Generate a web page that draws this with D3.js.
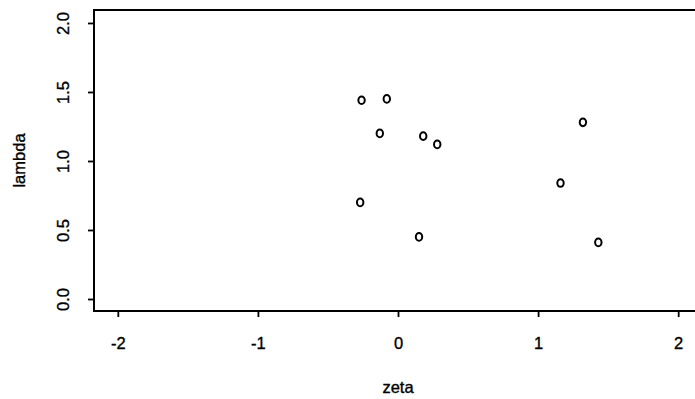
<!DOCTYPE html>
<html>
<head>
<meta charset="utf-8">
<script src="https://cdn.jsdelivr.net/npm/d3@7"></script>
<style>
  body { margin: 0; background: #fff; }
  svg { display: block; }
  text { font-family: "Liberation Sans", Arial, sans-serif; fill: #000; stroke: #000; stroke-width: 0.35px; }
</style>
</head>
<body>
<div id="chart"></div>
<script>
// points
const zeta   = [-0.26, -0.08, -0.13, 0.18, 0.28, 1.32, 1.16, -0.27, 0.15, 1.43];
const lambda = [1.44, 1.45, 1.20, 1.18, 1.12, 1.28, 0.84, 0.70, 0.45, 0.41];
const xTicks = [-2, -1, 0, 1, 2];
const yTicks = [0, 0.5, 1, 1.5, 2];

const W = 695, H = 399;
const margin = { top: 10, right: -7, bottom: 88, left: 94 };
const width = W - margin.left - margin.right;
const height = H - margin.top - margin.bottom;
const fs = 16.5;

const svg = d3.select('#chart').append('svg')
  .attr('width', W)
  .attr('height', H);

const g = svg.append('g')
  .attr('transform', `translate(${margin.left},${margin.top})`);

const x = d3.scaleLinear().domain([-2.17, 2.17]).range([0, width]);
const y = d3.scaleLinear().domain([-0.087, 2.094]).range([height, 0]);

// box
g.append('rect')
  .attr('x', 0).attr('y', 0)
  .attr('width', width).attr('height', height)
  .attr('fill', 'none')
  .attr('stroke', '#000')
  .attr('stroke-width', 2);

const xAxis = g.append('g')
  .attr('transform', `translate(0,${height})`)
  .call(d3.axisBottom(x).tickValues(xTicks).tickSize(6).tickPadding(20)
    .tickFormat(d => String(d)));

const yAxis = g.append('g')
  .call(d3.axisLeft(y).tickValues(yTicks).tickSize(6).tickPadding(0)
    .tickFormat(d3.format('.1f')));

[xAxis, yAxis].forEach(a => {
  a.attr('font-size', fs).attr('font-family', null);
  a.select('.domain').remove();
  a.selectAll('line').attr('stroke', '#000').attr('stroke-width', 1.8);
});

// rotated y labels like R's las=0
yAxis.selectAll('text')
  .attr('x', null)
  .attr('text-anchor', 'middle')
  .attr('transform', 'translate(-31,0) rotate(-90)')
  .attr('dy', '0.35em');

// points drawn as "o"
g.selectAll('.pt')
  .data(zeta.map((z, i) => ({ z, l: lambda[i] })))
  .join('ellipse')
  .attr('class', 'pt')
  .attr('cx', d => x(d.z))
  .attr('cy', d => y(d.l))
  .attr('rx', 3.2)
  .attr('ry', 3.8)
  .attr('fill', 'none')
  .attr('stroke', '#000')
  .attr('stroke-width', 2);

// axis titles
svg.append('text')
  .attr('x', margin.left + width / 2)
  .attr('y', 393)
  .attr('text-anchor', 'middle')
  .attr('font-size', fs)
  .text('zeta');

svg.append('text')
  .attr('transform', `translate(25,${margin.top + height / 2}) rotate(-90)`)
  .attr('text-anchor', 'middle')
  .attr('font-size', fs)
  .text('lambda');
</script>
</body>
</html>
